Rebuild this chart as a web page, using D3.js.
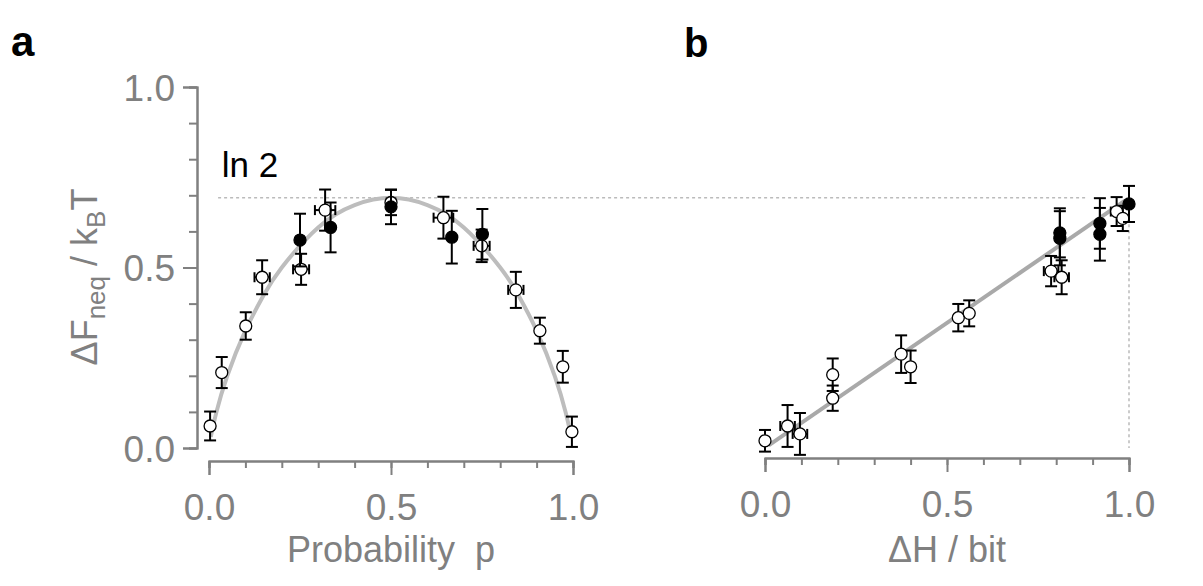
<!DOCTYPE html>
<html>
<head>
<meta charset="utf-8">
<script src="https://cdn.jsdelivr.net/npm/d3@7"></script>
<style>
  body { margin: 0; background: #fff; }
  svg { display: block; font-family: "Liberation Sans", Arial, sans-serif; }
</style>
</head>
<body>
<svg id="chart" width="1203" height="586"></svg>
<script>
// panel a: free energy vs probability p  [p, dF, errY, errX]
const open_a = [
    [0.003, 0.061, 0.040, 0],
    [0.035, 0.209, 0.043, 0],
    [0.101, 0.338, 0.038, 0],
    [0.146, 0.473, 0.047, 0.021],
    [0.253, 0.495, 0.043, 0.022],
    [0.319, 0.659, 0.057, 0.028],
    [0.500, 0.680, 0.035, 0.012],
    [0.644, 0.638, 0.058, 0.027],
    [0.749, 0.560, 0.045, 0.022],
    [0.843, 0.438, 0.050, 0.021],
    [0.909, 0.325, 0.036, 0],
    [0.972, 0.225, 0.044, 0],
    [0.997, 0.045, 0.042, 0]
]
const filled_a = [
    [0.250, 0.576, 0.073, 0],
    [0.334, 0.611, 0.069, 0],
    [0.500, 0.668, 0.048, 0],
    [0.667, 0.584, 0.073, 0],
    [0.751, 0.592, 0.070, 0]
]
// grey theory curve
const curve_p = [0.005, 0.02, 0.05, 0.1, 0.15, 0.2, 0.3, 0.4, 0.5, 0.6, 0.7, 0.8, 0.85, 0.9, 0.95, 0.98, 0.995]
const curve_f = [0.031, 0.098, 0.199, 0.325, 0.423, 0.500, 0.611, 0.673, 0.693, 0.673, 0.611, 0.500, 0.423, 0.325, 0.199, 0.098, 0.031]

// panel b: free energy vs entropy change  [dH, dF, errY, errX]
const open_b = [
    [0.000, 0.020, 0.030, 0],
    [0.062, 0.061, 0.058, 0.020],
    [0.096, 0.039, 0.058, 0.020],
    [0.186, 0.203, 0.045, 0],
    [0.186, 0.138, 0.035, 0],
    [0.374, 0.260, 0.052, 0],
    [0.400, 0.225, 0.045, 0],
    [0.531, 0.361, 0.038, 0],
    [0.561, 0.373, 0.036, 0],
    [0.786, 0.490, 0.042, 0.020],
    [0.815, 0.473, 0.047, 0.020],
    [0.966, 0.655, 0.040, 0.016],
    [0.983, 0.636, 0.035, 0]
]
const filled_b = [
    [0.810, 0.596, 0.068, 0],
    [0.810, 0.581, 0.075, 0],
    [0.920, 0.622, 0.070, 0],
    [0.920, 0.592, 0.073, 0],
    [1.000, 0.676, 0.050, 0]
]
const line_b_h = [0.01, 0.99]
const line_b_f = [0.007, 0.686]

const LN2 = 0.693
const Y_TICKS = [0, 0.5, 1]
const X_TICKS = [0, 0.5, 1]

const svg = d3.select("svg#chart")
const AXIS_GREY = "#808080"

const y = d3.scaleLinear().domain([0, 1]).range([448, 87])
const xa = d3.scaleLinear().domain([0, 1]).range([209, 573])
const xb = d3.scaleLinear().domain([0, 1]).range([765, 1129])

function styleAxis(g) {
    g.select(".domain").attr("stroke", AXIS_GREY).attr("stroke-width", 2)
    g.selectAll(".tick line").attr("stroke", AXIS_GREY).attr("stroke-width", 2)
    g.selectAll(".tick text").attr("fill", AXIS_GREY).attr("font-size", 37).attr("font-family", "Liberation Sans, Arial, sans-serif")
}

// y axis (panel a only)
const yMinor = svg.append("g").attr("transform", "translate(197,0)")
    .call(d3.axisLeft(y).tickValues(d3.range(0, 1.01, 0.1)).tickSize(8).tickFormat(""))
styleAxis(yMinor)
const yAxis = svg.append("g").attr("transform", "translate(197,0)")
    .call(d3.axisLeft(y).tickValues(Y_TICKS).tickSize(14).tickPadding(8).tickFormat(d3.format(".1f")))
styleAxis(yAxis)
yAxis.selectAll(".tick text").attr("dy", "0.36em")

function xAxis(scale, ypos) {
    const minor = svg.append("g").attr("transform", "translate(0," + ypos + ")")
        .call(d3.axisBottom(scale).tickValues(d3.range(0, 1.01, 0.1)).tickSize(7).tickFormat(""))
    styleAxis(minor)
    const major = svg.append("g").attr("transform", "translate(0," + ypos + ")")
        .call(d3.axisBottom(scale).tickValues(X_TICKS).tickSize(14).tickPadding(18).tickFormat(d3.format(".1f")))
    styleAxis(major)
    major.selectAll(".tick text").attr("dy", "0.72em")
}
xAxis(xa, 461)
xAxis(xb, 458)

// axis titles
svg.append("text")
    .attr("x", xa(0.5)).attr("y", 562)
    .attr("text-anchor", "middle")
    .attr("fill", AXIS_GREY).attr("font-size", 36)
    .attr("xml:space", "preserve")
    .text("Probability  p")
svg.append("text")
    .attr("x", xb(0.5)).attr("y", 562)
    .attr("text-anchor", "middle")
    .attr("fill", AXIS_GREY).attr("font-size", 36)
    .text("\u0394H / bit")

const yTitle = svg.append("text")
    .attr("transform", "translate(97,277) rotate(-90)")
    .attr("text-anchor", "middle")
    .attr("fill", AXIS_GREY).attr("font-size", 36)
yTitle.append("tspan").text("\u0394F")
yTitle.append("tspan").attr("font-size", 26).attr("dy", 8).text("neq")
yTitle.append("tspan").attr("dy", -8).text(" / k")
yTitle.append("tspan").attr("font-size", 26).attr("dy", 8).text("B")
yTitle.append("tspan").attr("dy", -8).text("T")

// panel letters
svg.append("text").attr("x", 11).attr("y", 56).attr("font-size", 42).attr("font-weight", "bold").text("a")
svg.append("text").attr("x", 684).attr("y", 57).attr("font-size", 40).attr("font-weight", "bold").text("b")

// ln 2 reference lines
svg.append("line")
    .attr("x1", xa(0.025)).attr("x2", xb(0.88))
    .attr("y1", y(LN2)).attr("y2", y(LN2))
    .attr("stroke", "#bbb").attr("stroke-width", 1.5).attr("stroke-dasharray", "3,3")
svg.append("line")
    .attr("x1", xb(1)).attr("x2", xb(1))
    .attr("y1", y(0.62)).attr("y2", y(0))
    .attr("stroke", "#bbb").attr("stroke-width", 1.5).attr("stroke-dasharray", "3,3")
svg.append("text")
    .attr("x", xa(0.035)).attr("y", 177)
    .attr("font-size", 35).attr("fill", "#000")
    .text("ln 2")

// grey fit lines
svg.append("path")
    .datum(curve_p.map((p, i) => [p, curve_f[i]]))
    .attr("fill", "none").attr("stroke", "#bdbdbd").attr("stroke-width", 4)
    .attr("d", d3.line().x(d => xa(d[0])).y(d => y(d[1])).curve(d3.curveNatural))
svg.append("path")
    .datum(line_b_h.map((h, i) => [h, line_b_f[i]]))
    .attr("fill", "none").attr("stroke", "#a9a9a9").attr("stroke-width", 4)
    .attr("d", d3.line().x(d => xb(d[0])).y(d => y(d[1])))

function drawPoints(data, x, filled) {
    const g = svg.append("g")
    const CAP = 6
    data.forEach(function(d) {
        const cx = x(d[0]), cy = y(d[1])
        const top = y(d[1] + d[2]), bot = y(d[1] - d[2])
        g.append("line").attr("x1", cx).attr("x2", cx).attr("y1", top).attr("y2", bot)
        g.append("line").attr("x1", cx - CAP).attr("x2", cx + CAP).attr("y1", top).attr("y2", top)
        g.append("line").attr("x1", cx - CAP).attr("x2", cx + CAP).attr("y1", bot).attr("y2", bot)
        if (d[3] > 0) {
            const l = x(d[0] - d[3]), r = x(d[0] + d[3])
            g.append("line").attr("x1", l).attr("x2", r).attr("y1", cy).attr("y2", cy)
            g.append("line").attr("x1", l).attr("x2", l).attr("y1", cy - 5).attr("y2", cy + 5)
            g.append("line").attr("x1", r).attr("x2", r).attr("y1", cy - 5).attr("y2", cy + 5)
        }
    })
    g.selectAll("line").attr("stroke", "#000").attr("stroke-width", 2)
    g.selectAll("circle").data(data).join("circle")
        .attr("cx", d => x(d[0]))
        .attr("cy", d => y(d[1]))
        .attr("r", 6)
        .attr("fill", filled ? "#000" : "#fff")
        .attr("stroke", "#000")
        .attr("stroke-width", 1.3)
}

drawPoints(open_a, xa, false)
drawPoints(filled_a, xa, true)
drawPoints(open_b, xb, false)
drawPoints(filled_b, xb, true)
</script>
</body>
</html>
